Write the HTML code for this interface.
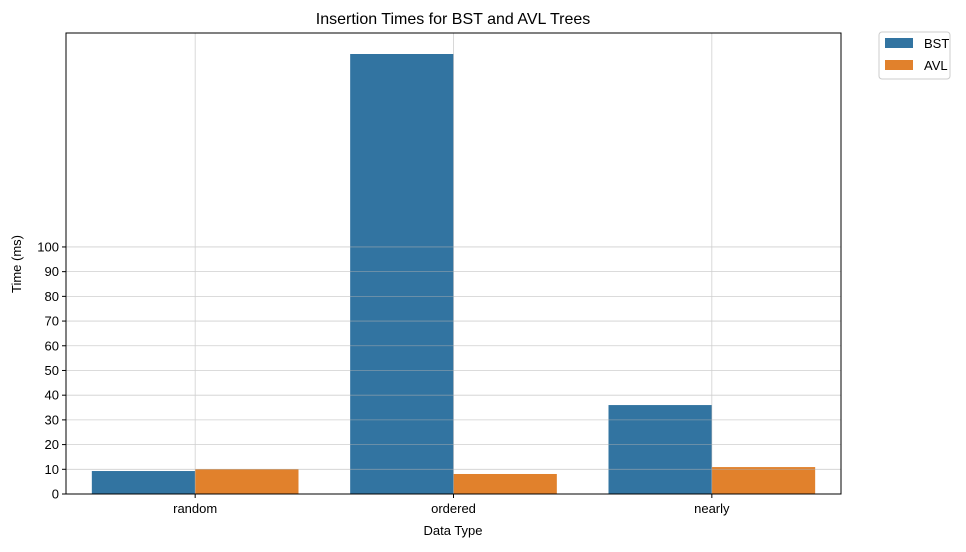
<!DOCTYPE html>
<html><head><meta charset="utf-8">
<style>
body{margin:0;background:#fff;font-family:"Liberation Sans","DejaVu Sans",sans-serif;}
svg text{font-family:"Liberation Sans","DejaVu Sans",sans-serif;}
</style></head>
<body>
<svg id="chart" width="966" height="547">
<text x="453" y="24" font-size="16" text-anchor="middle">Insertion Times for BST and AVL Trees</text>
<g id="bars"></g>
<g id="grid" opacity="0.6"></g>
<rect x="66" y="33" width="775" height="461" fill="none" stroke="#000" stroke-width="1"/>
<g id="axes" font-size="13"></g>
<text x="453" y="535" font-size="13" text-anchor="middle">Data Type</text>
<text transform="translate(21,264) rotate(-90)" font-size="13" text-anchor="middle">Time (ms)</text>
<g>
<rect x="879" y="32" width="71" height="47" rx="3" fill="#fff" stroke="#ccc"/>
<rect x="885" y="38" width="28" height="10" fill="#3274a1"/>
<text x="924" y="48" font-size="13">BST</text>
<rect x="885" y="60" width="28" height="10" fill="#e1812c"/>
<text x="924" y="70" font-size="13">AVL</text>
</g>
</svg>
<script>
const categories=["random","ordered","nearly"];
const bstValues=[9.3,178.1,36.0];
const avlValues=[10.1,8.1,10.9];
const yTicks=[0,10,20,30,40,50,60,70,80,90,100];
const NS="http://www.w3.org/2000/svg";
const x0=66,x1=841,yb=494,yt=33,yMax=186.6;
const xs=i=>x0+(i+0.5)*(x1-x0)/categories.length;
const bw=0.4*(x1-x0)/categories.length;
const ys=v=>yb-v*(yb-yt)/yMax;
function mk(t,a,p){const e=document.createElementNS(NS,t);for(const k in a)e.setAttribute(k,a[k]);p.appendChild(e);return e;}
const grid=document.getElementById('grid'),bars=document.getElementById('bars'),axes=document.getElementById('axes');
yTicks.forEach(t=>{
 const l=mk('line',{x1:x0,x2:x1,y1:ys(t),y2:ys(t),stroke:'#b0b0b0','stroke-width':0.8},grid);
 
 
 const tk=mk('line',{x1:x0-4,x2:x0,y1:ys(t),y2:ys(t),stroke:'#000'},axes);
 
 
 const tx=mk('text',{x:x0-7,y:ys(t)+4.5,'text-anchor':'end'},axes);tx.textContent=t;
 
 
});
categories.forEach((c,i)=>{
 const l=mk('line',{x1:xs(i),x2:xs(i),y1:yt,y2:yb,stroke:'#b0b0b0','stroke-width':0.8},grid);
 
 
 const b=mk('rect',{x:xs(i)-bw,y:ys(bstValues[i]),width:bw,height:yb-ys(bstValues[i]),fill:'#3274a1'},bars);
 
 
 const a=mk('rect',{x:xs(i),y:ys(avlValues[i]),width:bw,height:yb-ys(avlValues[i]),fill:'#e1812c'},bars);
 
 
 const tk=mk('line',{x1:xs(i),x2:xs(i),y1:yb,y2:yb+4,stroke:'#000'},axes);
 
 
 const tx=mk('text',{x:xs(i),y:yb+19,'text-anchor':'middle'},axes);tx.textContent=c;
 
 
});
</script>
</body></html>
